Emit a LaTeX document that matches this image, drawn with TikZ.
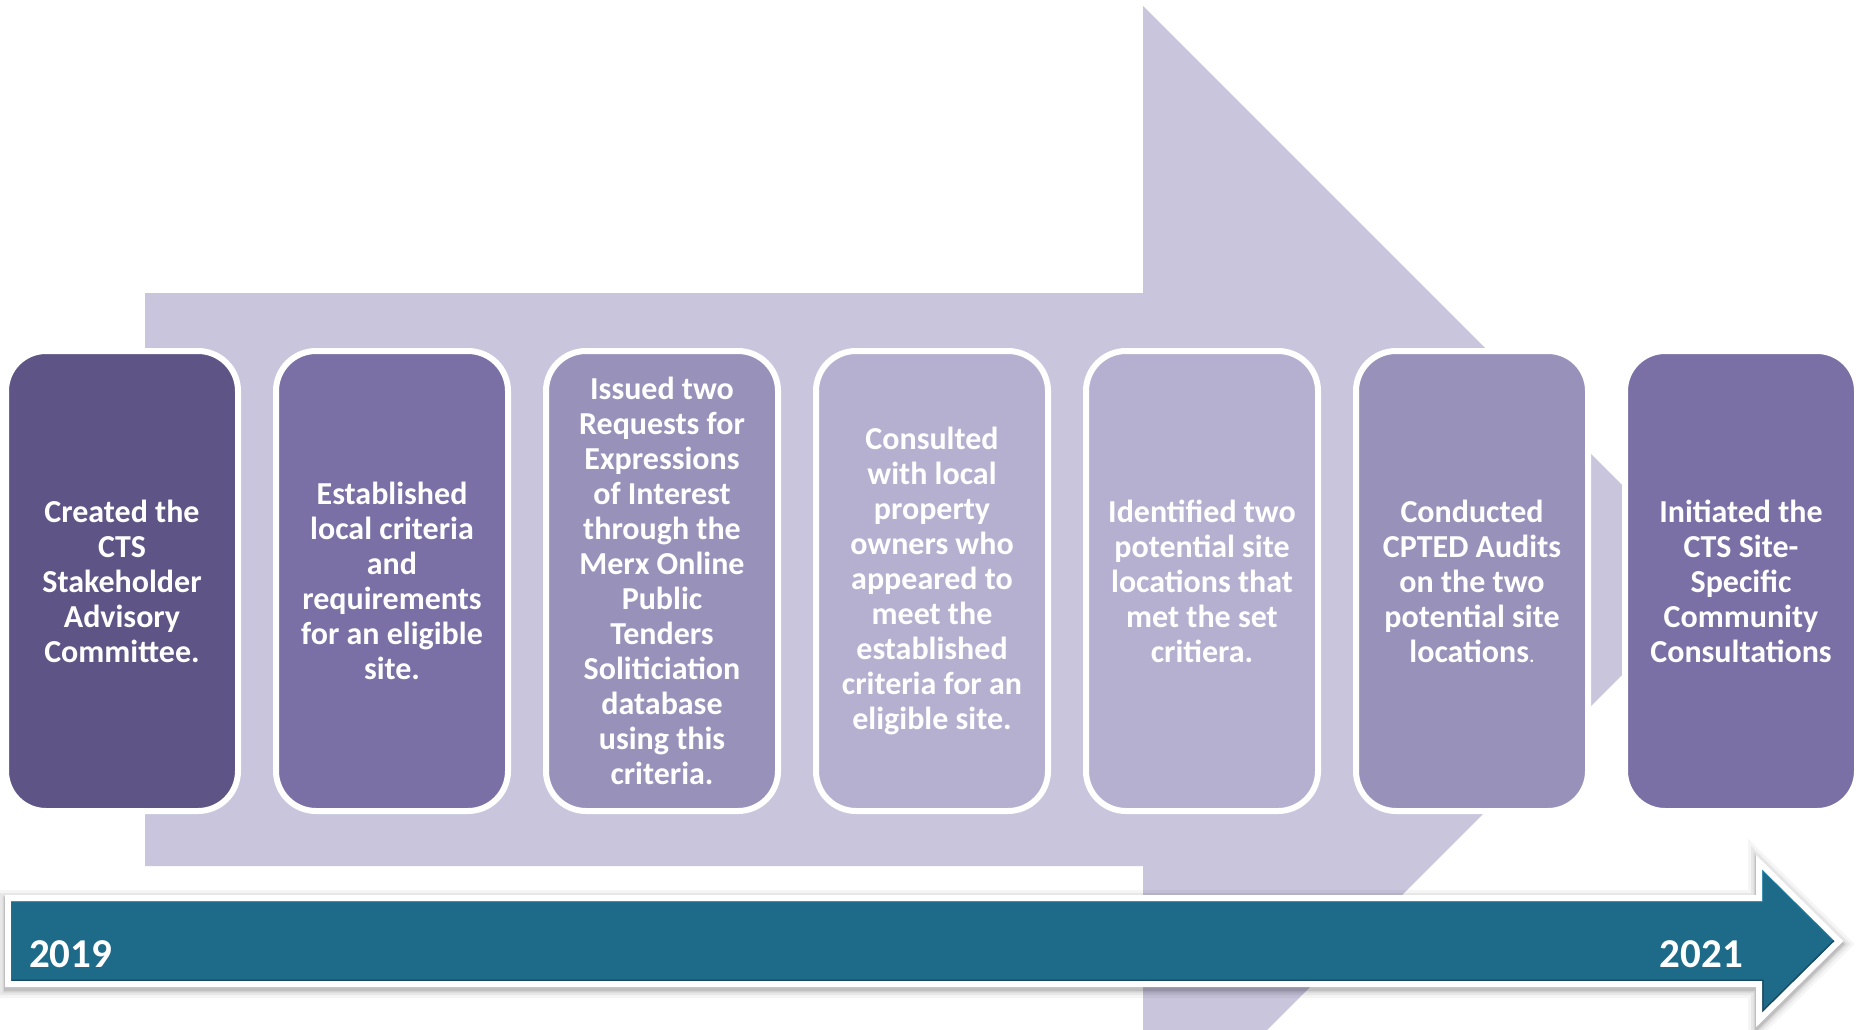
\documentclass[tikz,border=0pt]{standalone}
\usepackage{fontspec}
\setmainfont{Carlito}
\definecolor{bigarrow}{HTML}{C8C5DD}
\definecolor{boxA}{HTML}{5E5586}
\definecolor{boxB}{HTML}{7A70A5}
\definecolor{boxC}{HTML}{9892BB}
\definecolor{boxD}{HTML}{B5B0D0}
\definecolor{tealmain}{HTML}{1E6A89}
\definecolor{teallight}{HTML}{2780A6}
\definecolor{tealdark}{HTML}{15495F}
\begin{document}
\begin{tikzpicture}[x=1pt,y=-1pt,
  stepbox/.style={draw=white, line width=6pt, rounded corners=40pt,
    minimum width=232pt, minimum height=460pt, inner sep=0pt,
    align=center, text=white, font=\bfseries\fontsize{32}{35}\selectfont},
  yearlabel/.style={text=white, inner sep=0pt, font=\bfseries\fontsize{41}{45}\selectfont}]
\useasboundingbox (0,0) rectangle (1860,1029);
\clip (0,0) rectangle (1860,1029);

% big background arrow
\fill[bigarrow] (145,293) -- (1143,293) -- (1143,6) -- (1717,580) -- (1143,1154) -- (1143,866) -- (145,866) -- cycle;

% step boxes
\node[stepbox, fill=boxA] (s1) at (122,581) {Created the\\CTS\\Stakeholder\\Advisory\\Committee.};
\node[stepbox, fill=boxB] (s2) at (392,581) {Established\\local criteria\\and\\requirements\\for an eligible\\site.};
\node[stepbox, fill=boxC] (s3) at (662,581) {Issued two\\Requests for\\Expressions\\of Interest\\through the\\Merx Online\\Public\\Tenders\\Soliticiation\\database\\using this\\criteria.};
\node[stepbox, fill=boxD] (s4) at (932,581) {Consulted\\with local\\property\\owners who\\appeared to\\meet the\\established\\criteria for an\\eligible site.};
\node[stepbox, fill=boxD] (s5) at (1202,581) {Identified two\\potential site\\locations that\\met the set\\critiera.};
\node[stepbox, fill=boxC] (s6) at (1472,581) {Conducted\\CPTED Audits\\on the two\\potential site\\locations{\mdseries\fontsize{22}{35}\selectfont.}};
\node[stepbox, fill=boxB] (s7) at (1741,581) {Initiated the\\CTS Site-\\Specific\\Community\\Consultations};

% timeline arrow: shadow
\foreach \w/\o in {22/0.04,16/0.06,11/0.08,8/0.10}{
  \draw[black, opacity=\o, line width=\w pt, line join=miter]
    (8,901) -- (1759,901) -- (1759,865) -- (1839,944) -- (1759,1023) -- (1759,987) -- (8,987) -- cycle;
}
% timeline arrow body
\fill[tealmain] (8,898) -- (1759,898) -- (1759,862) -- (1839,941) -- (1759,1020) -- (1759,984) -- (8,984) -- cycle;
\begin{scope}
  \clip (8,898) -- (1759,898) -- (1759,862) -- (1839,941) -- (1759,1020) -- (1759,984) -- (8,984) -- cycle;
  \draw[teallight, line width=8pt] (8,898) -- (1759,898) -- (1759,862) -- (1839,941);
  \draw[tealdark, line width=9pt] (8,984) -- (1759,984) -- (1759,1020) -- (1839,941);
  \draw[tealdark, line width=7pt, opacity=0.6] (8,898) -- (8,984);
\end{scope}
\draw[white, line width=6pt, line join=miter]
  (8,898) -- (1759,898) -- (1759,862) -- (1839,941) -- (1759,1020) -- (1759,984) -- (8,984) -- cycle;

% years
\node[yearlabel, anchor=base west] (y2019) at (29,967) {2019};
\node[yearlabel, anchor=base east] (y2021) at (1743,967) {2021};
\end{tikzpicture}
\end{document}
